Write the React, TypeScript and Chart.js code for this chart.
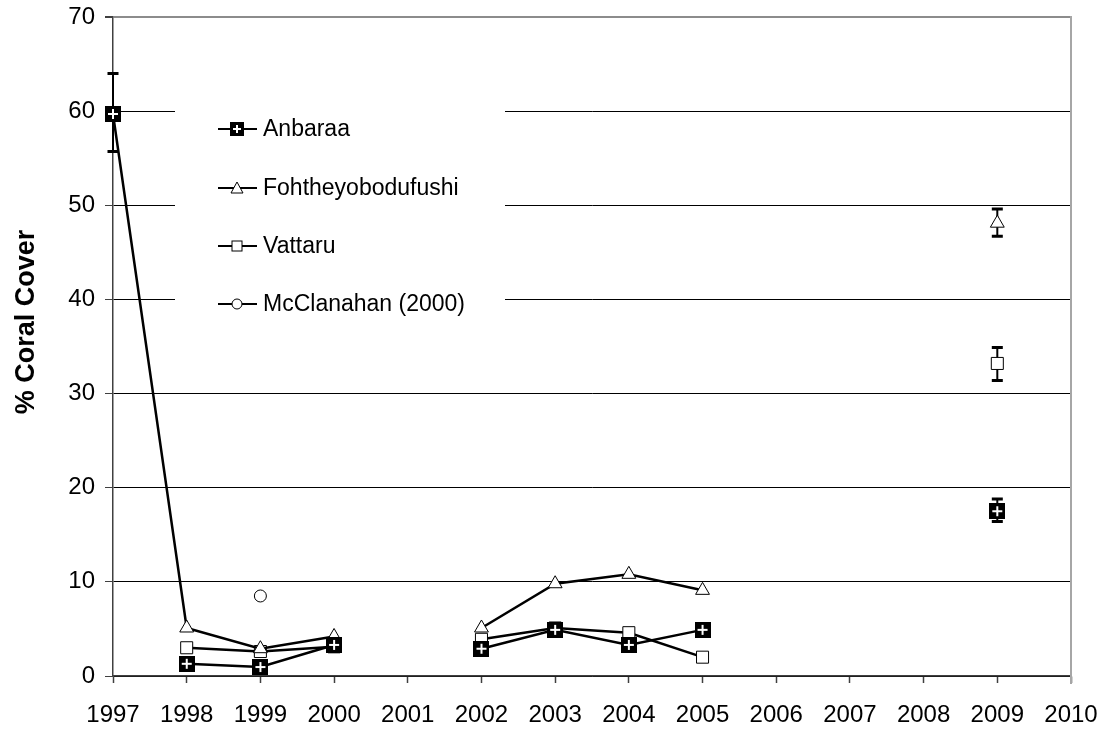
import React, { useEffect, useRef } from 'react';
import { Chart, registerables } from 'chart.js';

Chart.register(...registerables);

const years = ['1997', '1998', '1999', '2000', '2001', '2002', '2003', '2004', '2005', '2006', '2007', '2008', '2009', '2010'];

const anbaraa = [59.7, 1.3, 0.95, 3.3, null, 2.9, 4.9, 3.3, 4.9, null, null, null, 17.5, null];
const anbaraaLow = [55.7, null, null, null, null, null, null, null, null, null, null, null, 16.4, null];
const anbaraaHigh = [64.0, null, null, null, null, null, null, null, null, null, null, null, 18.8, null];

const foht = [59.7, 5.1, 2.9, 4.2, null, 5.1, 9.8, 10.8, 9.1, null, null, null, 48.1, null];
const fohtLow = [null, null, null, null, null, null, null, null, null, null, null, null, 46.7, null];
const fohtHigh = [null, null, null, null, null, null, null, null, null, null, null, null, 49.6, null];

const vattaru = [null, 3.0, 2.6, 3.1, null, 3.9, 5.1, 4.6, 2.0, null, null, null, 33.2, null];
const vattaruLow = [null, null, null, null, null, null, null, null, null, null, null, null, 31.4, null];
const vattaruHigh = [null, null, null, null, null, null, null, null, null, null, null, null, 34.9, null];

const mcclanahan = [null, null, 8.5, null, null, null, null, null, null, null, null, null, null, null];

const seriesNames = ['Anbaraa', 'Fohtheyobodufushi', 'Vattaru', 'McClanahan (2000)'];
const yAxisTitle = '% Coral Cover';
const yTicksMax = 70;

const FONT = "'Liberation Sans', Arial, sans-serif";

function makePlusSquare(size: number) {
  const c = document.createElement('canvas');
  c.width = size;
  c.height = size;
  const g = c.getContext('2d')!;
  g.fillStyle = '#000';
  g.fillRect(0, 0, size, size);
  g.strokeStyle = '#fff';
  g.lineWidth = 2;
  const m = size / 2;
  const a = Math.round(size * 0.32);
  g.beginPath();
  g.moveTo(m - a, m);
  g.lineTo(m + a, m);
  g.moveTo(m, m - a);
  g.lineTo(m, m + a);
  g.stroke();
  return c;
}

export default function App() {
  const ref = useRef<HTMLCanvasElement | null>(null);

  useEffect(() => {
    const canvas = ref.current;
    if (!canvas) return;
    const plusBig = makePlusSquare(16);
    const plusSmall = makePlusSquare(14);

    const errLows = [anbaraaLow, fohtLow, vattaruLow, null];
    const errHighs = [anbaraaHigh, fohtHigh, vattaruHigh, null];

    const errorBars = {
      id: 'errorBars',
      beforeDatasetsDraw(chart: any) {
        const ctx = chart.ctx;
        const ys = chart.scales.y;
        ctx.save();
        ctx.strokeStyle = '#000';
        errLows.forEach((lows, di) => {
          const highs = errHighs[di];
          if (!lows || !highs) return;
          const meta = chart.getDatasetMeta(di);
          lows.forEach((lo, i) => {
            const hi = highs[i];
            if (lo == null || hi == null) return;
            const x = meta.data[i].x;
            const y1 = ys.getPixelForValue(lo);
            const y2 = ys.getPixelForValue(hi);
            ctx.lineWidth = 2;
            ctx.beginPath();
            ctx.moveTo(x, y1);
            ctx.lineTo(x, y2);
            ctx.stroke();
            ctx.lineWidth = 3;
            ctx.beginPath();
            ctx.moveTo(x - 5.5, y1);
            ctx.lineTo(x + 5.5, y1);
            ctx.moveTo(x - 5.5, y2);
            ctx.lineTo(x + 5.5, y2);
            ctx.stroke();
          });
        });
        ctx.restore();
      },
    };

    const frame = {
      id: 'frame',
      afterDraw(chart: any) {
        const { ctx, chartArea } = chart;
        ctx.save();
        ctx.strokeStyle = '#a6a6a6';
        ctx.lineWidth = 2;
        ctx.beginPath();
        ctx.moveTo(chartArea.right, chartArea.top - 1);
        ctx.lineTo(chartArea.right, chartArea.bottom + 8);
        ctx.stroke();
        // y axis title
        ctx.fillStyle = '#000';
        ctx.font = `bold 27px ${FONT}`;
        ctx.textAlign = 'center';
        ctx.textBaseline = 'middle';
        ctx.translate(27, 322);
        ctx.rotate(-Math.PI / 2);
        ctx.fillText(yAxisTitle, 0, 0);
        ctx.restore();
      },
    };

    const styles = ['plus', 'triangle', 'rect', 'circle'];
    const legendBox = {
      id: 'legendBox',
      afterDatasetsDraw(chart: any) {
        const ctx = chart.ctx;
        ctx.save();
        ctx.fillStyle = '#fff';
        ctx.fillRect(175, 78, 330, 254);
        const rows = [129, 188, 246, 304];
        seriesNames.forEach((name, i) => {
          const y = rows[i];
          ctx.strokeStyle = '#000';
          ctx.lineWidth = 2;
          ctx.beginPath();
          ctx.moveTo(218, y);
          ctx.lineTo(257, y);
          ctx.stroke();
          const cx = 237;
          const st = styles[i];
          ctx.lineWidth = 1;
          ctx.fillStyle = '#fff';
          if (st === 'plus') {
            ctx.drawImage(plusSmall, cx - 7, y - 7);
          } else if (st === 'triangle') {
            ctx.beginPath();
            ctx.moveTo(cx, y - 6);
            ctx.lineTo(cx + 6, y + 5);
            ctx.lineTo(cx - 6, y + 5);
            ctx.closePath();
            ctx.fill();
            ctx.stroke();
          } else if (st === 'rect') {
            ctx.fillRect(cx - 5, y - 5, 10, 10);
            ctx.strokeRect(cx - 5, y - 5, 10, 10);
          } else {
            ctx.beginPath();
            ctx.arc(cx, y, 5, 0, Math.PI * 2);
            ctx.fill();
            ctx.stroke();
          }
          ctx.fillStyle = '#000';
          ctx.font = `23px ${FONT}`;
          ctx.textBaseline = 'middle';
          ctx.textAlign = 'left';
          ctx.fillText(name, 263, y + 1);
        });
        ctx.restore();
      },
    };

    const chart = new Chart(canvas, {
      type: 'line',
      data: {
        labels: years,
        datasets: [
          {
            label: seriesNames[0],
            data: anbaraa,
            borderColor: '#000',
            borderWidth: 2.5,
            pointStyle: plusBig as any,
            pointRadius: 8,
            spanGaps: false,
            segment: {
              borderColor: (ctx: any) => (ctx.p0DataIndex === 0 ? 'rgba(0,0,0,0)' : undefined),
            },
          },
          {
            label: seriesNames[1],
            data: foht,
            borderColor: '#000',
            backgroundColor: '#fff',
            borderWidth: 2.5,
            pointStyle: 'triangle',
            pointRadius: 8,
            pointBorderWidth: 1,
            spanGaps: false,
          },
          {
            label: seriesNames[2],
            data: vattaru,
            borderColor: '#000',
            backgroundColor: '#fff',
            borderWidth: 2.5,
            pointStyle: 'rect',
            pointRadius: 8.5,
            pointBorderWidth: 1,
            spanGaps: false,
          },
          {
            label: seriesNames[3],
            data: mcclanahan,
            borderColor: '#000',
            backgroundColor: '#fff',
            borderWidth: 2.5,
            pointStyle: 'circle',
            pointRadius: 6,
            pointBorderWidth: 1,
            showLine: false,
          },
        ],
      },
      options: {
        animation: false,
        responsive: true,
        maintainAspectRatio: false,
        events: [],
        layout: { padding: { top: 17, right: 36, left: 0, bottom: 0 } },
        plugins: {
          legend: { display: false },
          tooltip: { enabled: false },
        },
        scales: {
          x: {
            type: 'category',
            offset: false,
            grid: {
              offset: false,
              drawOnChartArea: false,
              drawTicks: true,
              tickLength: 7,
              tickColor: '#404040',
              tickWidth: 1.5,
            },
            border: { color: '#404040', width: 1.5 },
            ticks: {
              color: '#000',
              font: { family: FONT, size: 24 },
              padding: 18,
              maxRotation: 0,
              autoSkip: false,
            },
            afterFit: (s: any) => {
              s.height = 55;
              s.paddingLeft = 0;
              s.paddingRight = 0;
            },
          },
          y: {
            min: 0,
            max: yTicksMax,
            grid: {
              color: (c: any) => (c.tick && c.tick.value === yTicksMax ? '#8c8c8c' : '#000'),
              lineWidth: (c: any) => (c.tick && c.tick.value === yTicksMax ? 2 : 1),
              tickLength: 8,
              tickColor: '#404040',
            },
            border: { color: '#404040', width: 1.5 },
            ticks: {
              stepSize: 10,
              color: '#000',
              font: { family: FONT, size: 24 },
              padding: 10,
            },
            afterFit: (s: any) => {
              s.width = 113;
              s.paddingTop = 0;
              s.paddingBottom = 0;
            },
          },
        },
      },
      plugins: [errorBars, legendBox, frame],
    });

    return () => chart.destroy();
  }, []);

  return (
    <div style={{ position: 'absolute', left: 0, top: 0, width: 1107, height: 731, background: '#fff' }}>
      <canvas ref={ref} />
    </div>
  );
}
